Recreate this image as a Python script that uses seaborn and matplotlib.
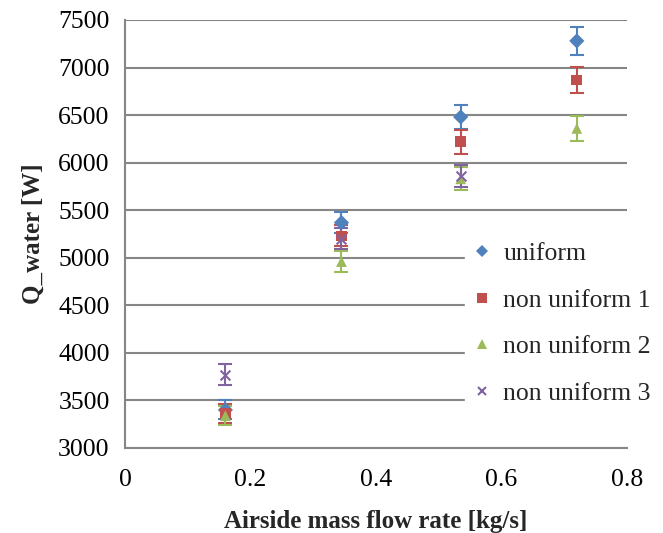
import numpy as np
import pandas as pd
import matplotlib
matplotlib.use("Agg")
import matplotlib.pyplot as plt
import seaborn as sns

series = ["uniform", "non uniform 1", "non uniform 2", "non uniform 3"]
x_uniform = [0.16, 0.345, 0.535, 0.72]
y_uniform = [3400, 5370, 6480, 7280]
e_uniform = [100, 110, 130, 145]
x_nu1 = [0.16, 0.345, 0.535, 0.72]
y_nu1 = [3360, 5230, 6220, 6870]
e_nu1 = [100, 110, 125, 140]
x_nu2 = [0.16, 0.345, 0.535, 0.72]
y_nu2 = [3340, 4960, 5830, 6360]
e_nu2 = [100, 110, 120, 130]
x_nu3 = [0.16, 0.345, 0.535]
y_nu3 = [3770, 5200, 5860]
e_nu3 = [110, 110, 120]

colors = ["#4F81BD", "#C0504D", "#9BBB59", "#8064A2"]
markers = ["D", "s", "^", "x"]

xs = [x_uniform, x_nu1, x_nu2, x_nu3]
ys = [y_uniform, y_nu1, y_nu2, y_nu3]
es = [e_uniform, e_nu1, e_nu2, e_nu3]

rows = []
for name, xv, yv, ev in zip(series, xs, ys, es):
    for a, b, c in zip(xv, yv, ev):
        rows.append({"series": name, "x": a, "y": b, "err": c})
df = pd.DataFrame(rows)

sns.set_style("white")
plt.rcParams["font.family"] = ["Liberation Serif", "DejaVu Serif"]

fig = plt.figure(figsize=(6.63, 5.33), dpi=100)
ax = fig.add_axes([0.1885, 0.1595, 0.7572, 0.803])

for name, col in zip(series, colors):
    d = df[df.series == name]
    ax.errorbar(d.x, d.y, yerr=d.err, fmt="none", ecolor=col, elinewidth=1.5,
                capsize=5, capthick=1.5, zorder=2)

filled = series[:3]
dfill = df[df.series.isin(filled)]
sns.scatterplot(data=dfill, x="x", y="y", hue="series", style="series",
                hue_order=filled, style_order=filled,
                palette=dict(zip(filled, colors[:3])),
                markers=dict(zip(filled, markers[:3])),
                s=60, linewidth=0, ax=ax, zorder=3, legend=False)
d3 = df[df.series == "non uniform 3"]
sns.scatterplot(data=d3, x="x", y="y", marker="x", s=50, color=colors[3],
                linewidth=1.5, ax=ax, zorder=4, legend=False)

ax.set_xlim(0, 0.8)
ax.set_ylim(3000, 7500)
ax.set_xticks([0, 0.2, 0.4, 0.6, 0.8])
ax.set_xticklabels(["0", "0.2", "0.4", "0.6", "0.8"])
ax.set_yticks(range(3000, 7501, 500))
ax.yaxis.grid(True, color="#868686", linewidth=1.5)
ax.xaxis.grid(False)
ax.set_axisbelow(True)
for s in ["top", "right"]:
    ax.spines[s].set_visible(False)
for s in ["left", "bottom"]:
    ax.spines[s].set_color("#868686")
    ax.spines[s].set_linewidth(1.5)
ax.tick_params(axis="both", which="major", length=6, width=1.5, color="#868686",
               labelsize=18.5, direction="out", labelcolor="black")
ax.tick_params(axis="x", pad=9)
ax.tick_params(axis="y", pad=5)
ax.set_xlabel("Airside mass flow rate [kg/s]", fontsize=18, fontweight="bold", labelpad=14)
ax.set_ylabel("Q_water [W]", fontsize=18, fontweight="bold", labelpad=10)

handles = []
for name, col, m in zip(series, colors, markers):
    if m == "x":
        h = plt.Line2D([], [], linestyle="none", marker=m, color=col, markersize=6, markeredgewidth=1.5)
    else:
        h = plt.Line2D([], [], linestyle="none", marker=m, color=col, markersize=6.5, markeredgewidth=0)
    handles.append(h)
leg = ax.legend(handles, series, loc="upper left", bbox_to_anchor=(0.677, 0.50),
                frameon=True, fontsize=18.5, handlelength=0.7, handletextpad=0.5,
                labelspacing=0.93, borderaxespad=0, borderpad=0.3)
leg.get_frame().set_facecolor("white")
leg.get_frame().set_edgecolor("white")
leg.get_frame().set_alpha(1)

fig.savefig("out.png", dpi=100)
